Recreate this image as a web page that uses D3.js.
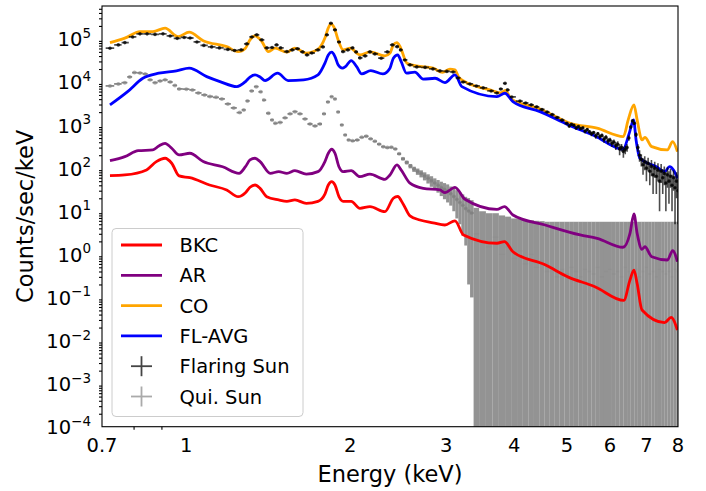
<!DOCTYPE html>
<html>
<head>
<meta charset="utf-8">
<script src="https://cdn.jsdelivr.net/npm/d3@7"></script>
<style>
  body { margin: 0; background: #ffffff; }
  svg { font-family: "DejaVu Sans", sans-serif; }
</style>
</head>
<body>
<div id="chart"></div>
<script>
// ---- axis ticks ----
var xTickVals = [0.7, 1, 2, 3, 4, 5, 6, 7, 8];
var xTickLabels = ["0.7", "1", "2", "3", "4", "5", "6", "7", "8"];
var xMinorVals = [0.8, 0.9];
var yTickExps = [-4, -3, -2, -1, 0, 1, 2, 3, 4, 5];

// ---- model curves (energy in keV, counts/sec/keV) ----
var bkcE = [0.724,0.771,0.845,0.881,0.914,0.94,0.97,1.015,1.103,1.186,1.245,1.284,1.309,1.337,1.366,1.405,1.478,1.53,1.583,1.661,1.745,1.797,1.823,1.849,1.875,1.907,1.941,2.008,2.084,2.174,2.316,2.40,2.445,2.50,2.575,2.685,2.84,2.985,3.115,3.23,3.72,3.84,3.98,4.56,5.02,5.63,6.36,6.53,6.64,6.73,6.87,7.56,7.77,7.98];
var bkcVal = [67,69.5,91,142,170,130,66,60,40.7,31.2,21.8,27,36,40.7,34,21.8,18.3,17,18.3,15.3,17,25,40.7,48.6,40.7,21.8,17,17,11.7,12.8,9.8,20,22,15,7.8,6.28,5.4,4.8,6.0,2.82,1.81,1.98,1.15,0.57,0.30,0.177,0.085,0.254,0.43,0.21,0.051,0.026,0.0345,0.0175];

var arE = [0.724,0.771,0.816,0.868,0.89,0.914,0.94,0.97,1.015,1.074,1.166,1.25,1.284,1.309,1.337,1.366,1.426,1.478,1.53,1.583,1.661,1.745,1.797,1.823,1.849,1.875,1.907,1.941,2.008,2.084,2.174,2.316,2.366,2.437,2.48,2.575,2.724,2.923,2.985,3.115,3.25,3.72,3.84,3.98,4.56,5.29,5.68,6.34,6.53,6.64,6.73,6.87,6.955,7.16,7.65,7.82,7.98];
var arVal = [149,185,255,265,328,378,290,203,222,142,108,76,108,155,170,142,76,83,76,87.5,73,83,142,222,275,222,108,83,87.5,63.5,73,55,69.5,119,91,44.7,34,31.2,27,36,19,11.1,12.8,8.2,4.8,2.82,2.36,1.46,3.08,8.65,3.08,1.31,1.5,0.88,0.74,1.22,0.68];

var coE = [0.724,0.771,0.822,0.868,0.914,0.966,1.012,1.074,1.186,1.245,1.284,1.309,1.337,1.376,1.415,1.456,1.53,1.583,1.661,1.745,1.797,1.823,1.843,1.87,1.9,1.941,2.0,2.084,2.174,2.316,2.366,2.40,2.436,2.47,2.542,2.645,2.84,2.955,3.049,3.115,3.16,3.23,3.612,3.78,3.855,3.95,4.462,5.07,5.68,6.35,6.48,6.64,6.73,6.87,6.955,7.16,7.65,7.82,7.98];
var coVal = [8.2e4,1.04e5,1.48e5,1.48e5,1.77e5,1.13e5,1.43e5,9.1e4,6.6e4,5.07e4,6.1e4,9.5e4,1.17e5,8.7e4,5.07e4,6.08e4,4.91e4,6.08e4,4.66e4,5.77e4,1.05e5,1.8e5,2.23e5,1.8e5,9.5e4,5.56e4,6.08e4,4.25e4,4.99e4,4.03e4,4.67e4,7.26e4,8.2e4,6.6e4,2.73e4,2.36e4,2.09e4,1.67e4,1.98e4,1.91e4,1.33e4,1.06e4,6.55e3,5.6e3,6.37e3,4.05e3,2.37e3,1.10e3,845,540,1.32e3,2.94e3,1.32e3,452,520,316,265,413,242];

var flavgE = [0.724,0.78,0.832,0.89,0.959,1.012,1.09,1.153,1.238,1.284,1.309,1.337,1.366,1.395,1.471,1.538,1.642,1.745,1.797,1.823,1.849,1.875,1.9,1.935,1.96,2.008,2.055,2.1,2.182,2.296,2.366,2.40,2.445,2.48,2.538,2.629,2.724,2.863,2.985,3.115,3.207,3.72,3.848,3.98,4.462,5.03,5.63,6.34,6.51,6.63,6.70,6.81,7.3,7.56,7.72,7.99];
var flavgVal = [2.94e3,5.97e3,1.22e4,1.60e4,1.81e4,2.09e4,1.33e4,1.02e4,7.8e3,1.02e4,1.3e4,1.46e4,1.3e4,1.08e4,1.60e4,1.08e4,1.12e4,1.46e4,2.73e4,4.25e4,4.91e4,3.9e4,2.5e4,2.09e4,2.27e4,3.14e4,2.27e4,1.54e4,1.84e4,1.54e4,2.09e4,3.56e4,4.25e4,3.0e4,1.6e4,1.69e4,1.16e4,1.22e4,9.7e3,1.46e4,7.8e3,4.57e3,5.48e3,3.5e3,2.05e3,1.01e3,560,275,650,1.32e3,452,170,108,83,108,58];

// ---- flaring sun data points (value and 1-sigma error) ----
var flE = [0.724,0.75,0.771,0.797,0.822,0.847,0.876,0.906,0.934,0.962,0.991,1.016,1.046,1.077,1.113,1.15,1.192,1.226,1.261,1.291,1.319,1.347,1.376,1.406,1.437,1.465,1.49,1.53,1.565,1.6,1.635,1.666,1.7,1.745,1.782,1.812,1.843,1.875,1.907,1.94,1.98,2.02,2.05,2.084,2.13,2.174,2.22,2.28,2.34,2.39,2.44,2.475,2.52,2.575,2.65,2.745,2.838,2.923,3.01,3.09,3.157,3.225,3.318,3.41,3.51,3.63,3.72,3.78,3.85,3.89,3.96,
  4.1,4.2,4.3,4.4,4.5,4.6,4.7,4.8,4.9,5.0,
  5.05,5.1,5.15,5.2,5.25,5.3,5.35,5.4,5.45,5.5,5.55,5.6,5.65,5.7,5.75,5.8,5.85,5.9,5.95,6.0,
  6.05,6.1,6.15,6.2,6.25,6.3,6.35,6.4,6.45,6.5,6.55,6.6,6.65,6.7,6.75,6.8,6.85,6.9,6.95,7.0,
  7.05,7.1,7.15,7.2,7.25,7.3,7.35,7.4,7.45,7.5,7.55,7.6,7.65,7.7,7.75,7.8,7.85,7.9,7.95,8.0];
var flVal = [6.08e4,7.26e4,8.2e4,1.11e5,1.31e5,1.31e5,1.27e5,1.31e5,1.17e5,1.03e5,1.08e5,1.05e5,8.5e4,7.06e4,6.52e4,6.18e4,5.7e4,5.4e4,5.56e4,7.66e4,1.11e5,1.24e5,9.5e4,6.18e4,6.3e4,7.26e4,6.18e4,5.07e4,5.56e4,5.9e4,4.99e4,4.25e4,4.7e4,5.56e4,6.52e4,1.24e5,2.3e5,1.62e5,8.5e4,5.07e4,5.56e4,6.18e4,4.99e4,3.62e4,4.03e4,4.99e4,4.49e4,3.56e4,4.99e4,7.26e4,6.6e4,5.56e4,3.25e4,2.49e4,2.24e4,2.18e4,2.01e4,1.81e4,1.76e4,1.71e4,1.24e4,1.0e4,9.0e3,8.1e3,7.3e3,6.2e3,5.57e3,6.9e3,9.3e3,6.55e3,4.5e3,
  3.6e3,3.25e3,2.95e3,2.65e3,2.3e3,2.0e3,1.75e3,1.5e3,1.3e3,1.1e3,
  950,1040,990,860,920,830,860,720,790,700,630,670,560,630,540,575,470,520,430,450,
  380,405,335,360,280,305,245,270,300,500,900,1250,1100,600,300,200,160,120,140,100,
  130,85,110,70,100,65,90,50,85,60,75,45,70,50,65,40,60,35,50,30];
var flErr = [730,870,980,1330,1570,1570,1520,1570,1400,1240,1300,1260,1020,850,780,740,680,650,670,920,1330,1490,1140,740,760,870,740,610,670,710,600,510,560,670,780,1490,2760,1940,1020,610,670,740,600,430,480,600,540,430,600,870,790,670,390,300,270,260,240,220,210,210,150,120,110,100,90,80,70,80,110,80,60,
  100,90,90,80,80,80,70,70,70,70,
  80,60,70,80,60,70,60,80,60,70,80,60,80,60,70,60,80,60,70,60,
  70,60,70,60,80,60,70,60,60,70,80,90,80,70,60,60,50,50,50,50,
  45,45,45,45,40,40,40,40,40,35,35,35,35,35,30,30,30,30,30,25];

// ---- quiet sun data points ----
var qsE = [0.724,0.75,0.771,0.787,0.803,0.822,0.84,0.858,0.876,0.895,0.914,0.934,0.953,0.97,1.0,1.026,1.052,1.08,1.105,1.134,1.162,1.192,1.222,1.253,1.275,1.295,1.318,1.344,1.37,1.388,1.415,1.437,1.456,1.487,1.518,1.551,1.583,1.617,1.652,1.687,1.723,1.76,1.79,1.82,1.849,1.875,1.9,1.93,1.958,1.986,
  2.02,2.06,2.1,2.14,2.18,2.22,2.26,2.3,2.34,2.38,2.42,2.46,2.5,2.54,2.58,2.62,2.66,2.7,2.74,2.78,2.82,2.86,2.9,2.94,2.98,3.02,3.06,3.1,3.14,3.18,3.22,3.26,3.3,3.34,
  3.4,3.5,3.6,3.7,3.8,3.9,4.0,4.1,4.2,4.3,4.4,4.5,
  4.6,4.7,4.8,4.9,5.0,5.1,5.2,5.3,5.4,5.5,5.6,5.7,5.8,5.9,6.0,6.1,6.2,6.3,6.4,6.5,6.6,6.7,6.8,6.9,7.0,7.1,7.2,7.3,7.4,7.5,7.6,7.7,7.8,7.9,8.0];
var qsVal = [8.1e3,9.0e3,9.66e3,1.31e4,1.65e4,1.62e4,1.54e4,1.12e4,9.66e3,1.06e4,1.12e4,1.0e4,8.3e3,6.9e3,6.8e3,6.55e3,5.57e3,5.0e3,4.6e3,4.4e3,4.05e3,3.1e3,2.5e3,1.95e3,2.25e3,3.63e3,6.2e3,7.8e3,5.9e3,3.8e3,1.88e3,1.32e3,1.1e3,1.15e3,1.47e3,1.82e3,2.05e3,1.82e3,1.39e3,1.06e3,955,1.06e3,1.82e3,3.45e3,4.57e3,4.05e3,2.02e3,1.01e3,590,452,
  430,450,520,550,480,420,360,315,300,305,280,215,165,136,112,95,84,75,66,58,51,45,40,35.5,32,29,25.5,22,18.8,16,13.7,11.6,10.2,9.1,
  3.0,2.0,1.5,2.5,1.0,1.5,0.8,1.2,0.6,1.0,0.5,0.7,
  0.4,0.5,0.3,0.45,0.35,0.5,0.4,0.3,0.45,0.4,0.35,0.5,0.3,0.4,0.45,0.35,0.4,0.3,0.5,0.4,0.35,0.45,0.3,0.4,0.5,0.35,0.4,0.3,0.45,0.4,0.35,0.4,0.3,0.45,0.4];
var qsErr = [200,220,240,330,410,400,380,280,240,260,280,250,210,170,170,160,140,125,115,110,100,80,65,50,58,90,150,190,145,95,50,36,31,32,38,46,52,46,37,30,27,30,46,85,112,100,52,28,18,14,
  14,14,15,16,15,14,13,13,13,13,13,13,13,13,13,13,14,14,14,14,14,13,13,13,13,13,12,12,12,11,11,10,10,9,
  9,8,7.5,6.5,7,6,6,5.5,5.6,5.2,5.5,5.2,
  5.3,5.2,5.4,5.25,5.35,5.2,5.3,5.4,5.25,5.3,5.35,5.2,5.4,5.3,5.25,5.35,5.3,5.4,5.2,5.3,5.35,5.25,5.4,5.3,5.2,5.35,5.3,5.4,5.25,5.3,5.35,5.3,5.4,5.25,5.3];

// ---- legend entries ----
var legendLabels = ["BKC", "AR", "CO", "FL-AVG", "Flaring Sun", "Qui. Sun"];
var legendColors = ["#ff0000", "#800080", "#ffa500", "#0000ff", "#444444", "#aaaaaa"];

// plot area
var W = 706, H = 491;
var plot = {left: 102, right: 678, top: 6, bottom: 426.7};

var x = d3.scaleLog().domain([0.7, 8]).range([plot.left, plot.right]);
var y = d3.scaleLog().domain([1e-4, 5.8e5]).range([plot.bottom, plot.top]);

var svg = d3.select("#chart").append("svg")
    .attr("width", W)
    .attr("height", H)
    .style("background", "#ffffff");

svg.append("defs").append("clipPath")
    .attr("id", "clip")
  .append("rect")
    .attr("x", plot.left)
    .attr("y", plot.top)
    .attr("width", plot.right - plot.left)
    .attr("height", plot.bottom - plot.top);

var area = svg.append("g").attr("clip-path", "url(#clip)");

// bin edges half way to the neighbouring points
function binEdges(E) {
  return E.map(function(e, i) {
    var lo = i > 0 ? (E[i - 1] + e) / 2 : e - (E[1] - E[0]) / 2;
    var hi = i < E.length - 1 ? (E[i + 1] + e) / 2 : e + (e - E[i - 1]) / 2;
    return [lo, hi];
  });
}

// draw errorbar data: x error line, y error (box or line), and a dot
function drawData(E, val, err, color, boxOpacity, dotOpacity, dotR, vLine) {
  var edges = binEdges(E);
  var g = area.append("g");
  E.forEach(function(e, i) {
    var top = y(val[i] + err[i]);
    var clipped = val[i] - err[i] <= 0;
    var low = clipped ? plot.bottom + 20 : y(val[i] - err[i]);
    var cy = y(val[i]);
    g.append("line")
      .attr("x1", x(edges[i][0])).attr("x2", x(edges[i][1]))
      .attr("y1", cy).attr("y2", cy)
      .attr("stroke", color).attr("stroke-width", 1.8)
      .attr("stroke-opacity", clipped ? 0.15 : boxOpacity);
    if (vLine) {
      g.append("line")
        .attr("x1", x(e)).attr("x2", x(e))
        .attr("y1", top).attr("y2", low)
        .attr("stroke", color).attr("stroke-width", 1.6)
        .attr("stroke-opacity", boxOpacity);
    } else {
      g.append("rect")
        .attr("x", x(edges[i][0]))
        .attr("width", x(edges[i][1]) - x(edges[i][0]))
        .attr("y", top)
        .attr("height", Math.max(low - top, 0))
        .attr("fill", color).attr("fill-opacity", boxOpacity);
    }
    if (!clipped) {
      g.append("circle")
        .attr("cx", x(e)).attr("cy", cy).attr("r", dotR)
        .attr("fill", color).attr("fill-opacity", dotOpacity);
    }
  });
}

drawData(qsE, qsVal, qsErr, "#808080", 0.85, 0.6, 2, false);

var line = d3.line()
    .x(function(d) { return x(d[0]); })
    .y(function(d) { return y(d[1]); })
    .curve(d3.curveMonotoneX);

function drawModel(E, val, color) {
  area.append("path")
    .datum(E.map(function(e, i) { return [e, val[i]]; }))
    .attr("d", line)
    .attr("fill", "none")
    .attr("stroke", color)
    .attr("stroke-width", 2.8)
    .attr("stroke-linejoin", "round");
}

drawModel(bkcE, bkcVal, legendColors[0]);
drawModel(arE, arVal, legendColors[1]);
drawModel(coE, coVal, legendColors[2]);
drawModel(flavgE, flavgVal, legendColors[3]);

drawData(flE, flVal, flErr, "#000000", 0.7, 0.75, 1.8, true);

// frame
svg.append("rect")
    .attr("x", plot.left).attr("y", plot.top)
    .attr("width", plot.right - plot.left)
    .attr("height", plot.bottom - plot.top)
    .attr("fill", "none")
    .attr("stroke", "#000")
    .attr("stroke-width", 1.1);

// x axis ticks
var xAxis = svg.append("g").attr("transform", "translate(0," + plot.bottom + ")");
xAxis.call(d3.axisBottom(x).tickValues(xTickVals).tickSize(5).tickSizeOuter(0).tickFormat(""));
xAxis.call(d3.axisBottom(x).tickValues(xMinorVals).tickSize(3).tickSizeOuter(0).tickFormat(""));
xAxis.selectAll(".domain").remove();
xAxis.selectAll("line").attr("stroke-width", 1.1);

svg.selectAll(".xlab")
    .data(xTickVals)
  .enter().append("text")
    .attr("x", function(d) { return x(d); })
    .attr("y", 451.5)
    .attr("text-anchor", "middle")
    .style("font-size", "19.5px")
    .text(function(d, i) { return xTickLabels[i]; });

// y axis ticks
var yMajor = yTickExps.map(function(e) { return Math.pow(10, e); });
var yMinor = [];
yTickExps.forEach(function(e) {
  for (var k = 2; k <= 9; k++) {
    var v = k * Math.pow(10, e);
    if (v < 5.8e5) yMinor.push(v);
  }
});
var yAxis = svg.append("g").attr("transform", "translate(" + plot.left + ",0)");
yAxis.call(d3.axisLeft(y).tickValues(yMajor).tickSize(5).tickSizeOuter(0).tickFormat(""));
yAxis.call(d3.axisLeft(y).tickValues(yMinor).tickSize(3).tickSizeOuter(0).tickFormat(""));
yAxis.selectAll(".domain").remove();
yAxis.selectAll("line").attr("stroke-width", 1.1);

var ylab = svg.selectAll(".ylab")
    .data(yTickExps)
  .enter().append("text")
    .attr("x", 91)
    .attr("y", function(d) { return y(Math.pow(10, d)) + 7.5; })
    .attr("text-anchor", "end")
    .style("font-size", "19.5px");
ylab.append("tspan").text("10");
ylab.append("tspan")
    .attr("dy", -8.5)
    .style("font-size", "13.5px")
    .text(function(d) { return d < 0 ? "\u2212" + (-d) : String(d); });

// axis titles
svg.append("text")
    .attr("x", (plot.left + plot.right) / 2)
    .attr("y", 481.5)
    .attr("text-anchor", "middle")
    .style("font-size", "22.5px")
    .text("Energy (keV)");

svg.append("text")
    .attr("transform", "translate(33," + ((plot.top + plot.bottom) / 2) + ")rotate(-90)")
    .attr("text-anchor", "middle")
    .style("font-size", "22.5px")
    .text("Counts/sec/keV");

// legend
var legend = svg.append("g");
legend.append("rect")
    .attr("x", 112).attr("y", 228.5)
    .attr("width", 191).attr("height", 188)
    .attr("rx", 4)
    .attr("fill", "#ffffff").attr("fill-opacity", 0.8)
    .attr("stroke", "#cccccc").attr("stroke-width", 1);

legendLabels.forEach(function(lab, i) {
  var cy = 245 + i * 30.3;
  if (i < 4) {
    legend.append("line")
      .attr("x1", 121).attr("x2", 162)
      .attr("y1", cy).attr("y2", cy)
      .attr("stroke", legendColors[i]).attr("stroke-width", 2.8);
  } else {
    legend.append("line")
      .attr("x1", 131).attr("x2", 152)
      .attr("y1", cy).attr("y2", cy)
      .attr("stroke", legendColors[i]).attr("stroke-width", 1.8);
    legend.append("line")
      .attr("x1", 141.5).attr("x2", 141.5)
      .attr("y1", cy - 10).attr("y2", cy + 10)
      .attr("stroke", legendColors[i]).attr("stroke-width", 1.8);
  }
  legend.append("text")
    .attr("x", 179.5)
    .attr("y", cy + 7)
    .style("font-size", "19.5px")
    .text(lab);
});
</script>
</body>
</html>
